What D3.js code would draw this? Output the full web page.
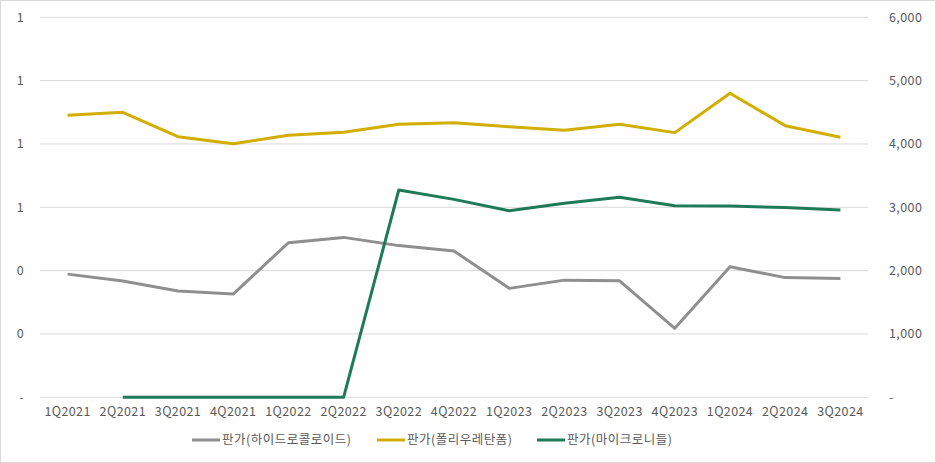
<!DOCTYPE html>
<html><head><meta charset="utf-8">
<script src="https://cdn.jsdelivr.net/npm/d3@7"></script>
<style>body{margin:0;background:#fff}svg{display:block}text{font-family:"Noto Sans CJK KR","Noto Sans",sans-serif;fill:#595959}</style>
</head><body><svg id="c" width="936" height="463"></svg>
<script>
const categories=["1Q2021","2Q2021","3Q2021","4Q2021","1Q2022","2Q2022","3Q2022","4Q2022","1Q2023","2Q2023","3Q2023","4Q2023","1Q2024","2Q2024","3Q2024"];
const hydro=[0.389,0.367,0.336,0.326,0.488,0.505,0.479,0.462,0.344,0.370,0.368,0.218,0.412,0.378,0.375];
const foam=[4453,4500,4115,4005,4137,4184,4311,4336,4273,4216,4311,4179,4800,4289,4105];
const micro=[null,0,0,0,0,0,3273,3125,2947,3063,3158,3026,3021,2995,2958];
const leftTicks=[0,0.2,0.4,0.6,0.8,1.0,1.2];
const rightTicks=[0,1000,2000,3000,4000,5000,6000];
const names=["판가(하이드로콜로이드)","판가(폴리우레탄폼)","판가(마이크로니들)"];
const colors=["#8f8f8f","#d1ae00","#1f7a57"];

const svg=d3.select("#c");
svg.append("rect").attr("x",0.5).attr("y",0.5).attr("width",935).attr("height",462).attr("fill","#fff").attr("stroke","#d9d9d9");
const L=40,R=868,T=17.3,B=397.3;
const x=d3.scaleBand().domain(categories).range([L,R]);
const yL=d3.scaleLinear().domain([0,1.2]).range([B,T]);
const yR=d3.scaleLinear().domain([0,6000]).range([B,T]);

svg.append("g").selectAll("line").data(rightTicks).join("line")
 .attr("x1",L).attr("x2",R).attr("y1",d=>yR(d)).attr("y2",d=>yR(d))
 .attr("stroke","#d9d9d9").attr("stroke-width",1);

const fmtL=d=>d===0?"-":d3.format(".0f")(d);
const fmtR=d=>d===0?"-":d3.format(",")(d);
function style(g){
 g.select(".domain").remove();
 g.selectAll("text").attr("font-size",12.5).attr("fill","#666").style("letter-spacing","0.4px").style("font-family","'Noto Sans CJK KR'");
}
const ga=svg.append("g").attr("transform",`translate(24,0)`).call(d3.axisLeft(yL).tickValues(leftTicks).tickFormat(fmtL).tickSize(0).tickPadding(0));
style(ga);
const gr=svg.append("g").attr("transform",`translate(889,0)`).call(d3.axisRight(yR).tickValues(rightTicks).tickFormat(fmtR).tickSize(0).tickPadding(0));
style(gr);
const gx=svg.append("g").attr("transform",`translate(0,${B})`).call(d3.axisBottom(x).tickSize(0).tickPadding(10));
style(gx);

const cx=d=>x(d)+x.bandwidth()/2;
const lineL=d3.line().defined(d=>d[1]!=null).x(d=>cx(d[0])).y(d=>yL(d[1]));
const lineR=d3.line().defined(d=>d[1]!=null).x(d=>cx(d[0])).y(d=>yR(d[1]));
const series=[[hydro,lineL],[foam,lineR],[micro,lineR]];
series.forEach(([vals,gen],i)=>{
 svg.append("path").datum(categories.map((c,j)=>[c,vals[j]])).attr("d",gen)
  .attr("fill","none").attr("stroke",colors[i]).attr("stroke-width",3).attr("stroke-linejoin","round");
});

const legX=[192,377,537];
const lg=svg.append("g");
names.forEach((n,i)=>{
 lg.append("line").attr("x1",legX[i]).attr("x2",legX[i]+28).attr("y1",440).attr("y2",440).attr("stroke",colors[i]).attr("stroke-width",3);
 lg.append("text").attr("x",legX[i]+30).attr("y",440).attr("dy","0.35em").attr("font-size",12.5).attr("fill","#666").style("letter-spacing","0.5px").text(n);
});
</script></body></html>
